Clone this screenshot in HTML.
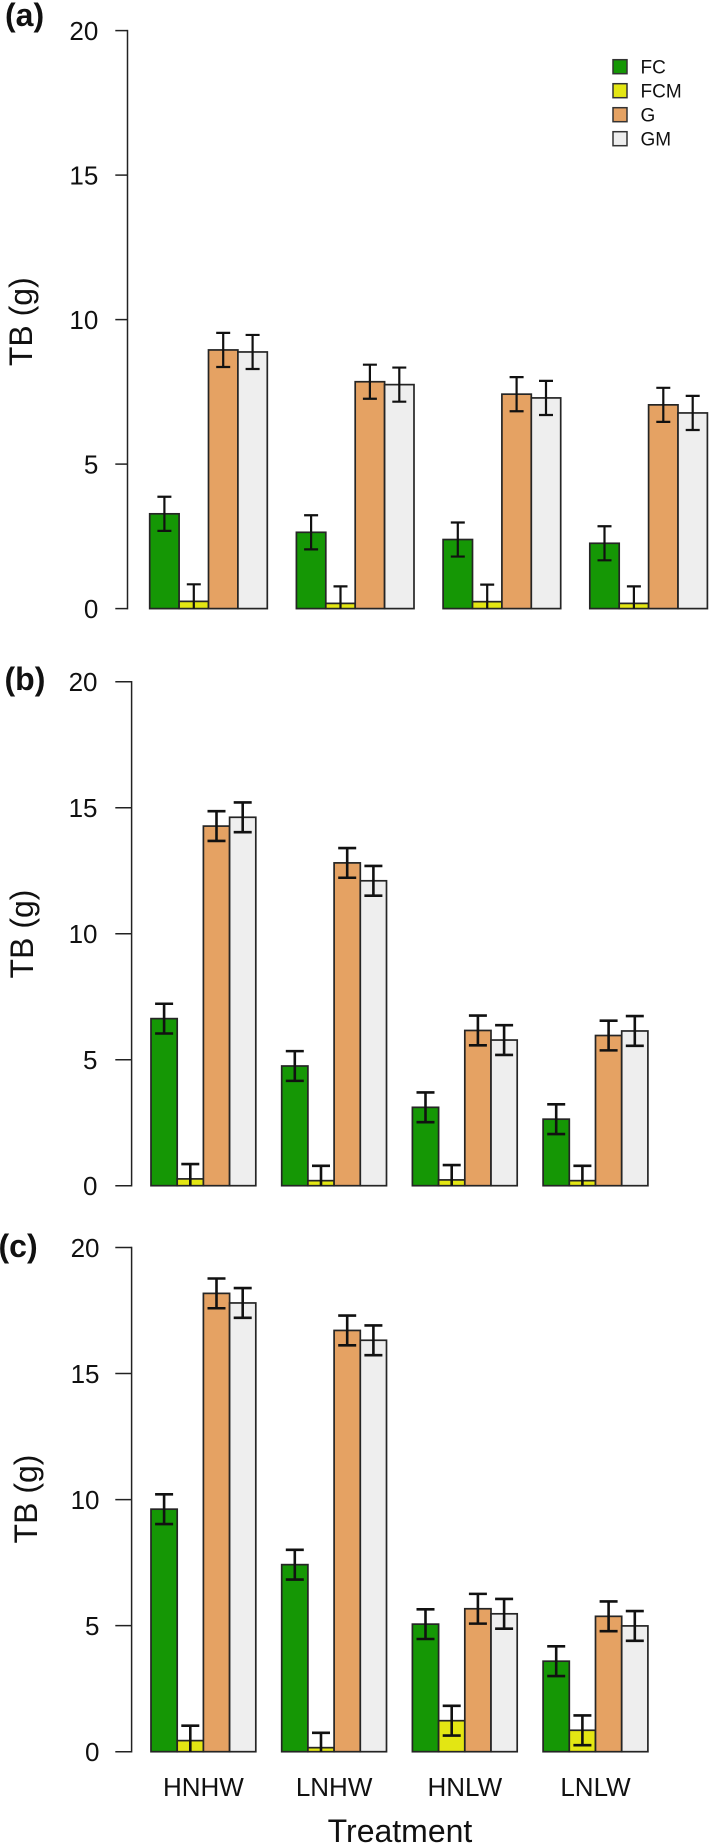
<!DOCTYPE html>
<html><head><meta charset="utf-8"><style>
html,body{margin:0;padding:0;background:#fff}
svg{display:block}
text{font-family:"Liberation Sans",Arial,sans-serif;fill:#111}
</style></head><body>
<svg id="fig" xmlns="http://www.w3.org/2000/svg" width="709" height="1845" viewBox="0 0 709 1845"></svg>
<script>
const treatments = ["HNHW","LNHW","HNLW","LNLW"];
const seriesNames = ["FC","FCM","G","GM"];
const seriesColors = ["#159705","#e3e613","#e5a263","#eeeeee"];
const yTicks = [0,5,10,15,20];
const panelNames = ["a","b","c"];

const aFC  = [3.28,2.64,2.39,2.26];
const aFCM = [0.25,0.18,0.24,0.18];
const aG   = [8.95,7.85,7.42,7.05];
const aGM  = [8.88,7.75,7.29,6.77];
const bFC  = [6.63,4.75,3.11,2.64];
const bFCM = [0.27,0.20,0.23,0.20];
const bG   = [14.27,12.81,6.16,5.96];
const bGM  = [14.62,12.10,5.78,6.14];
const cFC  = [9.62,7.42,5.06,3.59];
const cFCM = [0.44,0.16,1.23,0.85];
const cG   = [18.18,16.71,5.67,5.37];
const cGM  = [17.80,16.32,5.47,4.99];
const aErr = [0.59,0.59,0.59,0.59];
const bErr = [0.59,0.59,0.59,0.59];
const cErr = [0.59,0.59,0.59,0.59];

const panelValues = [[aFC,aFCM,aG,aGM],[bFC,bFCM,bG,bGM],[cFC,cFCM,cG,cGM]];
const panelErrors = [aErr,bErr,cErr];

const layouts = [
 {top:30.6, bottom:608.6, axisX:127.5, left:149.7, barW:29.4, pitch:146.7, capW:14, errW:2.2, tag:[5,26], ylab:[32,321.7], tickRight:98.3},
 {top:681.7, bottom:1185.7, axisX:131.6, left:151, barW:26.2, pitch:130.7, capW:18, errW:2.6, tag:[4.5,690], ylab:[33,934], tickRight:97.5},
 {top:1247.5, bottom:1751.7, axisX:131.6, left:151, barW:26.2, pitch:130.7, capW:18, errW:2.6, tag:[-1.5,1257], ylab:[37,1499], tickRight:99.5}
];

const NS = "http://www.w3.org/2000/svg";
const svg = document.getElementById("fig");
function mk(tag, attrs, parent){
  const e = document.createElementNS(NS, tag);
  for (const k in attrs) e.setAttribute(k, attrs[k]);
  (parent || svg).appendChild(e);
  return e;
}

panelValues.forEach(function(values, p){
  const L = layouts[p];
  const yScale = function(v){ return L.bottom - (L.bottom - L.top) * v / 20; };
  const xScale = function(g, s){ return L.left + g * L.pitch + s * L.barW; };

  const panel = mk("g", {});
  
  

  const tag = mk("text", {x:L.tag[0], y:L.tag[1], "font-size":32, "font-weight":"bold"}, panel);
  tag.textContent = "(" + panelNames[p] + ")";
  
  

  const yl = mk("text", {x:L.ylab[0], y:L.ylab[1], "font-size":32, "text-anchor":"middle", transform:"rotate(-90 "+L.ylab[0]+" "+L.ylab[1]+")"}, panel);
  yl.textContent = "TB (g)";
  
  

  const axis = mk("line", {x1:L.axisX, x2:L.axisX, y1:yScale(yTicks[yTicks.length-1])-0.75, y2:yScale(yTicks[0])+0.75, stroke:"#222", "stroke-width":1.5}, panel);
  
  

  yTicks.forEach(function(t){
    const tk = mk("line", {x1:115.3, x2:L.axisX, y1:yScale(t), y2:yScale(t), stroke:"#222", "stroke-width":1.5}, panel);
    
    
    const lb = mk("text", {x:L.tickRight, y:yScale(t)+9.3, "font-size":26, "text-anchor":"end"}, panel);
    lb.textContent = t;
    
    
  });

  values.forEach(function(series, s){
    series.forEach(function(v, g){
      const x = xScale(g, s);
      const r = mk("rect", {x:x, y:yScale(v), width:L.barW, height:yScale(0)-yScale(v), fill:seriesColors[s], stroke:"#252525", "stroke-width":1.7}, panel);
      
      
    });
  });

  values.forEach(function(series, s){
    series.forEach(function(v, g){
      const cx = xScale(g, s) + L.barW / 2;
      const err = panelErrors[p][g];
      const hi = v + err;
      const lo = Math.max(0, v - err);
      const h = L.capW / 2;
      const eb = mk("path", {d:"M"+cx+" "+yScale(lo)+"V"+yScale(hi)+"M"+(cx-h)+" "+yScale(hi)+"H"+(cx+h)+(v-err>0?"M"+(cx-h)+" "+yScale(lo)+"H"+(cx+h):""), fill:"none", stroke:"#111", "stroke-width":L.errW}, panel);
      
      
    });
  });
});

const legend = mk("g", {});


seriesNames.forEach(function(name, i){
  const cy = 66.7 + i * 24;
  const sw = mk("rect", {x:613, y:cy-7, width:14, height:14, fill:seriesColors[i], stroke:"#333", "stroke-width":1.5}, legend);
  
  
  const tx = mk("text", {x:640.5, y:cy+7, "font-size":19}, legend);
  tx.textContent = name;
  
  
});

const catCenters = layouts[2];
treatments.forEach(function(t, g){
  const x = catCenters.left + g * catCenters.pitch + 2 * catCenters.barW;
  const c = mk("text", {x:x, y:1796, "font-size":26, "text-anchor":"middle"});
  c.textContent = t;
  
  
});
const xt = mk("text", {x:400, y:1842, "font-size":32, "text-anchor":"middle"});
xt.textContent = "Treatment";


</script>
</body></html>
